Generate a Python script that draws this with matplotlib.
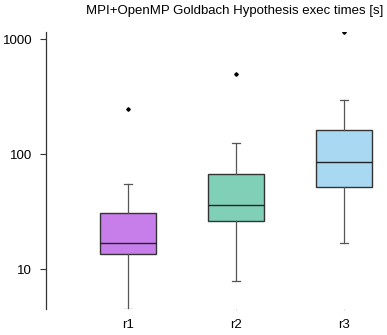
import matplotlib
matplotlib.use("Agg")
import matplotlib.pyplot as plt
from matplotlib.ticker import FixedLocator, NullLocator

plt.rcParams['font.family'] = ['Liberation Sans', 'DejaVu Sans']

# box statistics per run (seconds)
labels = ['r1', 'r2', 'r3']
whislo = [4.5, 7.96, 16.8]
q1 = [13.5, 26.1, 52.0]
med = [16.8, 36.0, 84.7]
q3 = [30.7, 66.6, 161.0]
whishi = [55.2, 124.0, 295.0]
fliers = [[246.0], [503.0], [1157.0]]
colors = ['#c77dea', '#80d0b8', '#a9d8f2']

stats = []
for i in range(len(labels)):
    stats.append(dict(label=labels[i], whislo=whislo[i], q1=q1[i], med=med[i],
                      q3=q3[i], whishi=whishi[i], fliers=fliers[i]))

fig = plt.figure(figsize=(3.87, 3.35), dpi=100)
ax = fig.add_axes([46/387, 26/335, 1 - 46/387, (309 - 32)/335])

bp = ax.bxp(stats, positions=[1, 2, 3], widths=0.51, patch_artist=True,
            boxprops=dict(edgecolor='#333333', linewidth=1.0),
            medianprops=dict(color='#222222', linewidth=1.0),
            whiskerprops=dict(color='#555555', linewidth=0.9),
            capprops=dict(color='#555555', linewidth=0.9),
            capwidths=0.08,
            flierprops=dict(marker='D', markersize=1.8, markerfacecolor='black',
                            markeredgecolor='black'))
for patch, c in zip(bp['boxes'], colors):
    patch.set_facecolor(c)

ax.set_yscale('log')
ax.set_ylim(4.5, 1157)
ax.set_xlim(1 - 82/108, 3 + 43/108)
ax.yaxis.set_major_locator(FixedLocator([10, 100, 1000]))
ax.yaxis.set_minor_locator(NullLocator())
ax.set_yticklabels(['10', '100', '1000'])

for s in ['top', 'right', 'bottom']:
    ax.spines[s].set_visible(False)
ax.spines['left'].set_color('#333333')
ax.spines['left'].set_linewidth(0.9)
ax.tick_params(axis='y', length=4, width=0.8, color='#333333', labelsize=9.5, pad=6)
ax.tick_params(axis='x', length=1, width=0.5, color='#bbbbbb', labelsize=9.5, pad=6)

fig.text(0.607, 0.967, 'MPI+OpenMP Goldbach Hypothesis exec times [s]',
         ha='center', va='center', fontsize=9.5)

fig.savefig('out.png', dpi=100)
